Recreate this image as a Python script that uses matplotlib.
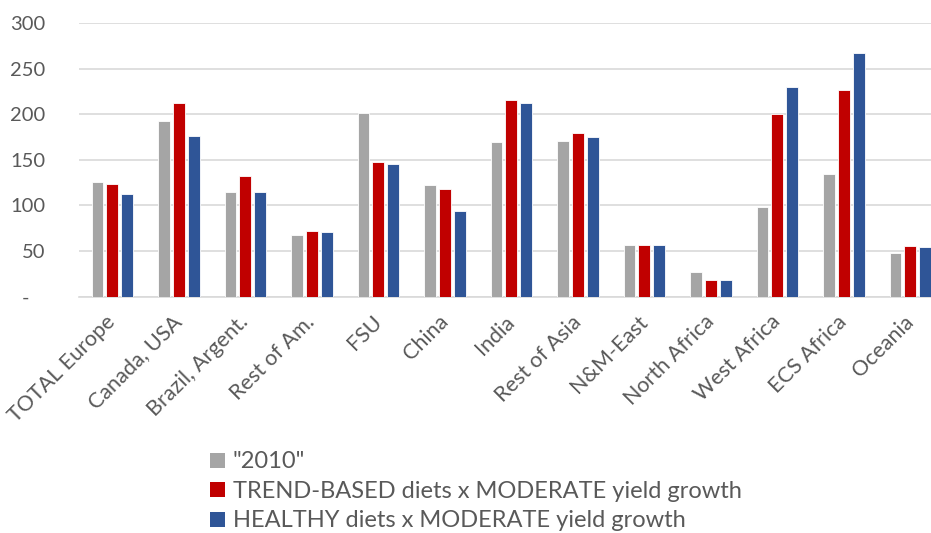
import numpy as np
import matplotlib.pyplot as plt
from matplotlib.patches import Patch

plt.rcParams['font.family'] = ['Lato', 'DejaVu Sans']

regions = ['TOTAL Europe', 'Canada, USA', 'Brazil, Argent.', 'Rest of Am.', 'FSU',
           'China', 'India', 'Rest of Asia', 'N&M-East', 'North Africa',
           'West Africa', 'ECS Africa', 'Oceania']

base_2010   = [126, 193, 115, 68, 201, 122, 169, 171, 56, 27, 98, 134, 48]
trend_mod   = [123, 212, 132, 72, 147, 118, 215, 179, 56, 18, 200, 227, 55]
healthy_mod = [112, 176, 115, 71, 145, 94, 212, 175, 56, 18, 230, 267, 54]

series = [
    ('"2010"', base_2010, '#a5a5a5'),
    ('TREND-BASED diets x MODERATE yield growth', trend_mod, '#c00000'),
    ('HEALTHY diets x MODERATE yield growth', healthy_mod, '#2f5597'),
]

text_col = '#595959'

fig = plt.figure(figsize=(9.31, 5.33), dpi=100)
ax = fig.add_axes([0.085, 0.4437, 0.9285, 0.5132])

x = np.arange(len(regions))
step = 0.224
width = 0.178
for i, (name, vals, col) in enumerate(series):
    ax.bar(x + (i - 1) * step, vals, width=width, color=col,
           edgecolor='white', linewidth=0.6, zorder=3, label=name)

ax.set_xlim(-0.5, len(regions) - 0.5)
ax.set_ylim(0, 300)
ax.set_yticks(range(0, 301, 50))
# accounting-style zero: dash with trailing padding
ax.set_yticklabels(['-   '] + [str(v) for v in range(50, 301, 50)])
ax.yaxis.grid(True, color='#d9d9d9', linewidth=1.2, zorder=0)
ax.tick_params(axis='y', length=0, pad=24.5, labelsize=14.5, labelcolor=text_col)
ax.tick_params(axis='x', length=0, pad=16)

ax.set_xticks(x)
ax.set_xticklabels(regions, rotation=45, ha='right', va='center',
                   rotation_mode='anchor', fontsize=15.5, color=text_col)

for side in ['top', 'right', 'left']:
    ax.spines[side].set_visible(False)
ax.spines['bottom'].set_color('#d9d9d9')
ax.spines['bottom'].set_linewidth(1.2)

handles = [Patch(facecolor=c, edgecolor='none') for _, _, c in series]
leg = fig.legend(handles, [s[0] for s in series], loc='upper left',
                 bbox_to_anchor=(0.226, 0.153), frameon=False, fontsize=17,
                 handlelength=0.6, handleheight=0.6, handletextpad=0.35,
                 labelspacing=0.36, borderaxespad=0, borderpad=0)
for t in leg.get_texts():
    t.set_color(text_col)

fig.savefig('out.png', dpi=100)
